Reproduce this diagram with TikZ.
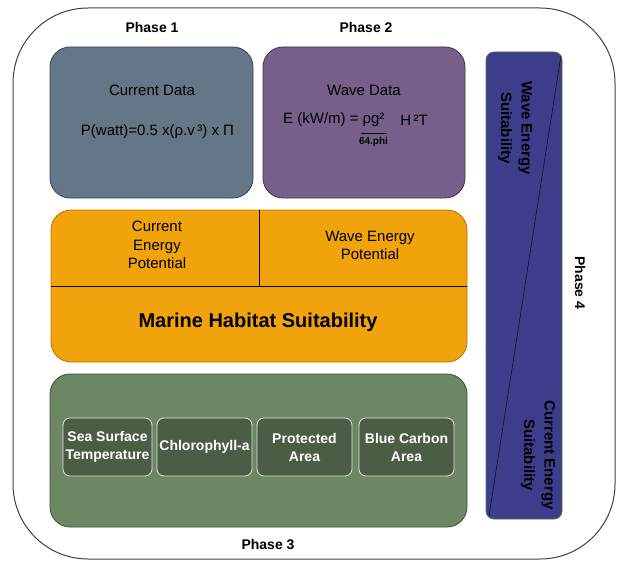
\documentclass[tikz,border=0pt]{standalone}
\usepackage{fontspec}
\setmainfont{Liberation Sans}
\usetikzlibrary{positioning}
\definecolor{curfill}{HTML}{647687}
\definecolor{curdraw}{HTML}{314354}
\definecolor{wavefill}{HTML}{76608A}
\definecolor{wavedraw}{HTML}{432D57}
\definecolor{habfill}{HTML}{F0A30A}
\definecolor{habdraw}{HTML}{BD7000}
\definecolor{envfill}{HTML}{6D8764}
\definecolor{envdraw}{HTML}{3A5431}
\definecolor{factorfill}{HTML}{4B5E45}
\definecolor{barfill}{HTML}{3D3D8C}
\definecolor{bardraw}{HTML}{56704A}
\begin{document}
\begin{tikzpicture}[x=1pt,y=-1pt,
  every node/.style={font=\fontsize{15}{18.5}\selectfont, align=center},
  phase/.style={font=\fontsize{14}{17}\selectfont\bfseries},
  databox/.style={draw, rounded corners=20pt, line width=0.8pt, minimum width=203pt, minimum height=151pt},
  layer/.style={draw, rounded corners=20pt, line width=0.8pt, minimum width=417pt, minimum height=152pt},
  factor/.style={draw=white!80!gray, fill=factorfill, rounded corners=7pt, line width=0.8pt, minimum width=95pt, minimum height=58pt, inner sep=1pt, text=white, font=\fontsize{14}{18}\selectfont\bfseries},
  suit/.style={rotate=-90, font=\fontsize{15}{20.5}\selectfont\bfseries}]
\useasboundingbox (0,0) rectangle (617,561);
\node[draw=black!75, line width=1pt, rounded corners=75pt, minimum width=602pt, minimum height=551pt] (frame) at (314,283.5) {};
\node[phase] (ph1) at (152,27) {Phase 1};
\node[phase] (ph2) at (366,27) {Phase 2};
\node[phase] (ph3) at (268,544) {Phase 3};
\node[phase, rotate=-90] (ph4) at (580,283) {Phase 4};
% phase 1 and 2
\node[databox, fill=curfill, draw=curdraw] (cur) at (151.5,122.5) {};
\node (curtitle) at (152,90) {Current Data};
\node (curformula) at (157.5,132) {P(watt)=0.5 x(ρ.v\,³) x Π};
\node[databox, fill=wavefill, draw=wavedraw, minimum width=202pt] (wave) at (364,122.5) {};
\node (wavetitle) at (364,90) {Wave Data};
\node[anchor=west, inner sep=0pt] (wavelhs) at (283,120) {E (kW/m) =};
\node[inner xsep=1pt, inner ysep=6pt] (wavenum) at (373.5,120) {ρg²};
\draw (wavenum.south west) -- (wavenum.south east);
\node[font=\fontsize{10}{12}\selectfont\bfseries] (waveden) at (373.5,142) {64.phi};
\node (wavehh) at (414,120) {H\,²T};
% habitat layer
\node[layer, fill=habfill, draw=habdraw, minimum width=416pt] (hab) at (259,286) {};
\draw[line width=0.8pt] (hab.west) -- (hab.east);
\draw[line width=0.8pt] (hab.north) -- (hab.center);
\node (curpot) at (157,245) {Current\\Energy\\Potential};
\node (wavepot) at (370,245.5) {Wave Energy\\Potential};
\node[font=\fontsize{20}{24}\selectfont\bfseries] (habitat) at (258,322) {Marine Habitat Suitability};
% phase 3
\node[layer, fill=envfill, draw=envdraw, minimum height=153pt] (env) at (258.5,450.5) {};
\node[factor, minimum width=89pt] (sst) at (107.5,447) {Sea Surface\\Temperature};
\node[factor] (chl) at (204.5,447) {Chlorophyll-a};
\node[factor] (mpa) at (304.5,447) {Protected\\Area};
\node[factor] (bca) at (406.5,447) {Blue Carbon\\Area};
% phase 4
\node[draw=bardraw, fill=barfill, rounded corners=8pt, minimum width=76pt, minimum height=467pt, line width=0.8pt] (bar) at (524,285.5) {};
\coordinate (splittop) at (561,55);
\coordinate (splitbot) at (489,516);
\draw (splittop) -- (splitbot);
\node[suit] (wavesuit) at (515,128) {Wave Energy\\Suitability};
\node[suit] (cursuit) at (538,455) {Current Energy\\Suitability};
\end{tikzpicture}
\end{document}
